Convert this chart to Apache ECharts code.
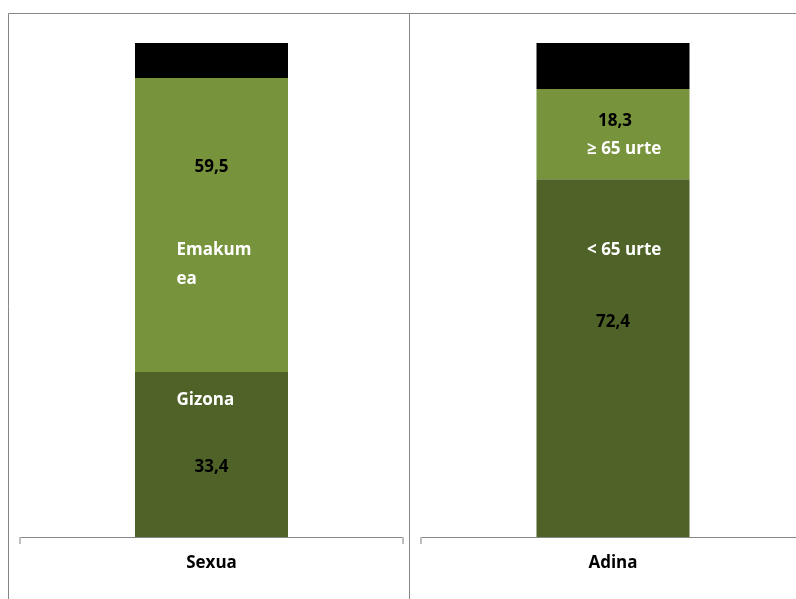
<!DOCTYPE html>
<html>
<head>
<meta charset="utf-8">
<script src="https://cdn.jsdelivr.net/npm/echarts@6/dist/echarts.min.js"></script>
<style>
html, body { margin: 0; padding: 0; background: #fff; }
#chart { width: 796px; height: 599px; }
</style>
</head>
<body>
<div id="chart"></div>
<script>
// datuak
const categories = ['Sexua', 'Adina'];
const sexuaNames = ['Gizona', 'Emakumea'];
const sexuaValues = [33.4, 59.5];
const adinaNames = ['< 65 urte', '≥ 65 urte'];
const adinaValues = [72.4, 18.3];
const restValues = [7.1, 9.3]; // goiko zati beltza

const dark = '#4f6228';
const light = '#77933c';
const font = 'Open Sans';

const fmt = v => v.toFixed(1).replace('.', ',');

// etiketen kokapenak (offset) eta zabalerak segmentu bakoitzeko
const valueOffsets = [[[0, 13], [0, -58]], [[0, -36], [2, -13]]];
const nameOffsets = [[[-35, -54], [-35, 40]], [[-26, -108], [-26, 15]]];
const nameWidths = [[110, 77], [110, 110]];

let myChart = echarts.init(document.getElementById('chart'));

const series = [];
const groups = [
    { names: sexuaNames, values: sexuaValues },
    { names: adinaNames, values: adinaValues }
];
groups.forEach((g, gi) => {
    g.names.forEach((nm, i) => {
        series.push({
            name: nm,
            type: 'bar',
            stack: 's' + gi,
            xAxisIndex: gi,
            yAxisIndex: gi,
            barWidth: 153,
            barGap: '-100%',
            silent: true,
            itemStyle: { color: i === 0 ? dark : light },
            label: {
                show: true,
                position: 'inside',
                offset: valueOffsets[gi][i],
                formatter: p => fmt(p.value),
                color: '#000',
                fontFamily: font,
                fontWeight: 'bold',
                fontSize: 17
            },
            data: [g.values[i]]
        });
    });
    series.push({
        name: 'rest' + gi,
        type: 'bar',
        stack: 's' + gi,
        xAxisIndex: gi,
        yAxisIndex: gi,
        barWidth: 153,
        barGap: '-100%',
        silent: true,
        itemStyle: { color: '#000' },
        data: [restValues[gi]]
    });
    // izenen etiketak (gardenak, gainean)
    g.names.forEach((nm, i) => {
        series.push({
            name: nm + ' ',
            type: 'bar',
            stack: 'n' + gi,
            xAxisIndex: gi,
            yAxisIndex: gi,
            barWidth: 153,
            barGap: '-100%',
            silent: true,
            itemStyle: { color: 'transparent' },
            label: {
                show: true,
                position: 'inside',
                offset: nameOffsets[gi][i],
                align: 'left',
                formatter: () => nm,
                color: '#fff',
                fontFamily: font,
                fontWeight: 'bold',
                fontSize: 17,
                width: nameWidths[gi][i],
                overflow: 'breakAll',
                lineHeight: 29
            },
            data: [g.values[i]]
        });
    });
});

const option = {
    animation: false,
    backgroundColor: '#fff',
    grid: [
        { left: 20, top: 43, width: 383, height: 494, outerBoundsMode: 'none' },
        { left: 421, top: 43, width: 384, height: 494, outerBoundsMode: 'none' }
    ],
    xAxis: categories.map((c, i) => ({
        type: 'category',
        gridIndex: i,
        data: [c],
        axisLine: { lineStyle: { color: '#868686', width: 1 } },
        axisTick: { show: true, length: 7, lineStyle: { color: '#bfbfbf', width: 2 } },
        axisLabel: {
            color: '#000',
            fontFamily: font,
            fontWeight: 'bold',
            fontSize: 17,
            margin: 18
        }
    })),
    yAxis: categories.map((c, i) => ({
        type: 'value',
        gridIndex: i,
        min: 0,
        max: 100,
        show: false,
        splitLine: { show: false }
    })),
    graphic: [
        { type: 'rect', shape: { x: 8.5, y: 13.5, width: 401, height: 600 }, style: { fill: 'none', stroke: '#868686', lineWidth: 1 } },
        { type: 'rect', shape: { x: 409.5, y: 13.5, width: 400, height: 600 }, style: { fill: 'none', stroke: '#868686', lineWidth: 1 } }
    ],
    series: series
};
option && myChart.setOption(option);
</script>
</body>
</html>
